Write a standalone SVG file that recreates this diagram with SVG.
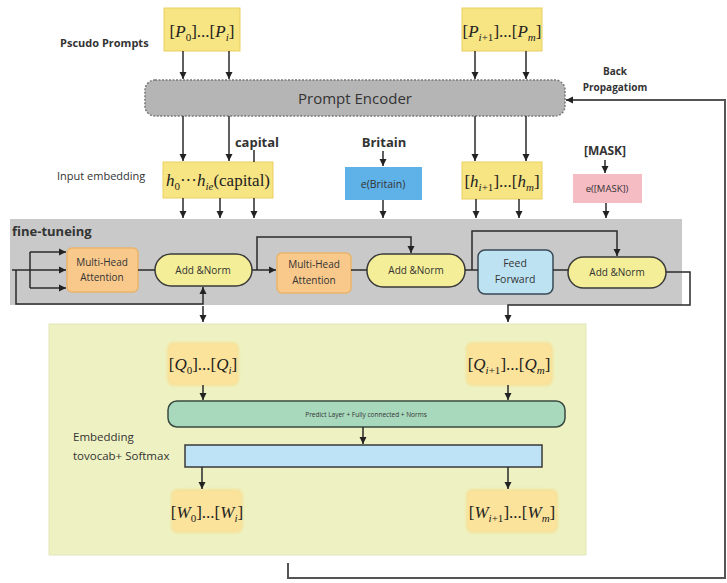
<svg xmlns="http://www.w3.org/2000/svg" width="727" height="583" viewBox="0 0 727 583">
<defs>
<marker id="ah" markerWidth="8" markerHeight="8" refX="7" refY="4" orient="auto" markerUnits="userSpaceOnUse">
<path d="M0,0.5 L7,4 L0,7.5 z" fill="#222"/>
</marker>
<filter id="glow" x="-20%" y="-20%" width="140%" height="140%">
<feGaussianBlur stdDeviation="1.5"/>
</filter>
</defs>
<style>
.lbl{font-family:"Open Sans","Liberation Sans",sans-serif;fill:#333;}
.math{font-family:"Liberation Serif","Times New Roman",serif;fill:#222;font-size:17px;}
.it{font-style:italic;}
.sub{font-size:11px;}
.ybox{fill:#f7e483;stroke:#e9cf62;stroke-width:1;}
.qbox{fill:#fbe39b;stroke:#f3d27a;stroke-width:1;}
.pill{fill:#f3ee97;stroke:#3a3a3a;stroke-width:1.5;}
.mha{fill:#f9c98c;stroke:#eab46a;stroke-width:1.5;}
.ln{fill:none;stroke:#2a2a2a;stroke-width:1.5;}
.arr{fill:none;stroke:#2a2a2a;stroke-width:1.5;marker-end:url(#ah);}
</style>
<rect width="727" height="583" fill="#ffffff"/>

<!-- backgrounds -->
<g id="finetune-region">
<rect x="10" y="219" width="672" height="86" fill="#c9c9c9"/>
<text class="lbl" x="12" y="236" font-size="13" font-weight="bold" fill="#222">fine-tuneing</text>
</g>
<g id="output-region">
<rect x="49" y="324" width="537" height="231" fill="#eef2c2" stroke="#e2e6b8" stroke-width="1"/>
<text class="lbl" x="73" y="441" font-size="11.5">Embedding</text>
<text class="lbl" x="73" y="460" font-size="11.5">tovocab+ Softmax</text>
</g>

<!-- labels -->
<g id="labels">
<text class="lbl" x="60" y="47" font-size="11" font-weight="bold">Pscudo Prompts</text>
<text class="lbl" x="57" y="180" font-size="11">Input embedding</text>
<text class="lbl" x="615" y="75" font-size="10" font-weight="bold" text-anchor="middle">Back</text>
<text class="lbl" x="615" y="91" font-size="10" font-weight="bold" text-anchor="middle">Propagatiom</text>
<text class="lbl" x="257" y="147" font-size="13" font-weight="bold" text-anchor="middle" fill="#222">capital</text>
<text class="lbl" x="384" y="147" font-size="13" font-weight="bold" text-anchor="middle" fill="#222">Britain</text>
<text class="lbl" x="605" y="155" font-size="12" font-weight="bold" text-anchor="middle" fill="#222">[MASK]</text>
</g>

<!-- nodes -->
<g id="pseudo-prompts-1">
<rect class="ybox" x="164" y="8" width="76" height="43"/>
<text class="math" x="202" y="37" text-anchor="middle">[<tspan class="it">P</tspan><tspan class="sub" dy="4">0</tspan><tspan dy="-4">]...[</tspan><tspan class="it">P</tspan><tspan class="sub it" dy="4">i</tspan><tspan dy="-4">]</tspan></text>
</g>
<g id="pseudo-prompts-2">
<rect class="ybox" x="462" y="8" width="80" height="43"/>
<text class="math" x="502" y="37" text-anchor="middle">[<tspan class="it">P</tspan><tspan class="sub it" dy="4">i</tspan><tspan class="sub" dy="0">+1</tspan><tspan dy="-4">]...[</tspan><tspan class="it">P</tspan><tspan class="sub it" dy="4">m</tspan><tspan dy="-4">]</tspan></text>
</g>
<g id="prompt-encoder">
<rect x="145" y="80" width="420" height="36" rx="10" fill="#b5b5b5" stroke="#777" stroke-width="1.5" stroke-dasharray="2,1.5"/>
<text class="lbl" x="355" y="104" font-size="15" text-anchor="middle" fill="#444">Prompt Encoder</text>
</g>
<g id="input-embedding-h">
<rect class="ybox" x="163" y="162" width="110" height="36"/>
<text class="math" x="218" y="186" text-anchor="middle"><tspan class="it">h</tspan><tspan class="sub" dy="4">0</tspan><tspan dy="-4">···</tspan><tspan class="it">h</tspan><tspan class="sub it" dy="4">ie</tspan><tspan dy="-4">(capital)</tspan></text>
</g>
<g id="e-britain">
<rect x="345" y="167" width="77" height="33" fill="#5fb2e8"/>
<text class="lbl" x="383" y="188" font-size="10.5" text-anchor="middle" fill="#1d4a6e">e(Britain)</text>
</g>
<g id="input-embedding-h2">
<rect class="ybox" x="462" y="162" width="80" height="37"/>
<text class="math" x="502" y="187" text-anchor="middle">[<tspan class="it">h</tspan><tspan class="sub it" dy="4">i</tspan><tspan class="sub">+1</tspan><tspan dy="-4">]...[</tspan><tspan class="it">h</tspan><tspan class="sub it" dy="4">m</tspan><tspan dy="-4">]</tspan></text>
</g>
<g id="e-mask">
<rect x="573" y="174" width="69" height="29" fill="#f6bcc4"/>
<text class="lbl" x="607" y="192" font-size="9.5" text-anchor="middle" fill="#9a5a62">e([MASK])</text>
</g>

<g id="multi-head-attention-1">
<rect class="mha" x="67" y="248" width="71" height="44" rx="5"/>
<text class="lbl" x="102" y="266" font-size="10" text-anchor="middle" fill="#7a6a55">Multi-Head</text>
<text class="lbl" x="102" y="281" font-size="10" text-anchor="middle" fill="#7a6a55">Attention</text>
</g>
<g id="add-norm-1">
<rect class="pill" x="155" y="254" width="97" height="32" rx="16"/>
<text class="lbl" x="203" y="274" font-size="10" text-anchor="middle" fill="#555">Add &amp;Norm</text>
</g>
<g id="multi-head-attention-2">
<rect class="mha" x="277" y="253" width="74" height="40" rx="5"/>
<text class="lbl" x="314" y="268" font-size="10" text-anchor="middle" fill="#7a6a55">Multi-Head</text>
<text class="lbl" x="314" y="284" font-size="10" text-anchor="middle" fill="#7a6a55">Attention</text>
</g>
<g id="add-norm-2">
<rect class="pill" x="367" y="254" width="98" height="33" rx="16"/>
<text class="lbl" x="416" y="274" font-size="10" text-anchor="middle" fill="#555">Add &amp;Norm</text>
</g>
<g id="feed-forward">
<rect x="478" y="250" width="75" height="44" rx="7" fill="#bde3f3" stroke="#3a4a55" stroke-width="1.5"/>
<text class="lbl" x="515" y="267" font-size="10.5" text-anchor="middle" fill="#4a6070">Feed</text>
<text class="lbl" x="515" y="283" font-size="10.5" text-anchor="middle" fill="#4a6070">Forward</text>
</g>
<g id="add-norm-3">
<rect class="pill" x="568" y="257" width="98" height="31" rx="15.5"/>
<text class="lbl" x="617" y="276" font-size="10" text-anchor="middle" fill="#555">Add &amp;Norm</text>
</g>

<g id="q-1">
<rect class="qbox" x="168" y="343" width="70" height="42" rx="5" filter="url(#glow)"/>
<rect x="170" y="345" width="66" height="38" rx="4" fill="#fbe39b"/>
<text class="math" x="203" y="370" text-anchor="middle">[<tspan class="it">Q</tspan><tspan class="sub" dy="4">0</tspan><tspan dy="-4">]...[</tspan><tspan class="it">Q</tspan><tspan class="sub it" dy="4">i</tspan><tspan dy="-4">]</tspan></text>
</g>
<g id="q-2">
<rect class="qbox" x="467" y="343" width="85" height="42" rx="5" filter="url(#glow)"/>
<rect x="469" y="345" width="81" height="38" rx="4" fill="#fbe39b"/>
<text class="math" x="509" y="370" text-anchor="middle">[<tspan class="it">Q</tspan><tspan class="sub it" dy="4">i</tspan><tspan class="sub">+1</tspan><tspan dy="-4">]...[</tspan><tspan class="it">Q</tspan><tspan class="sub it" dy="4">m</tspan><tspan dy="-4">]</tspan></text>
</g>
<g id="predict-layer">
<rect x="168" y="401" width="397" height="26" rx="9" fill="#a8d9bd" stroke="#3a4a40" stroke-width="1.5"/>
<text class="lbl" x="366" y="417" font-size="6.5" text-anchor="middle" fill="#7a8a80">Predict Layer + Fully connected + Norms</text>
</g>
<g id="embedding-softmax">
<rect x="185" y="445" width="357" height="22" fill="#bfe3f6" stroke="#3a3a3a" stroke-width="1.5"/>
</g>
<g id="w-1">
<rect class="qbox" x="172" y="490" width="70" height="42" rx="5" filter="url(#glow)"/>
<rect x="174" y="492" width="66" height="38" rx="4" fill="#fbe39b"/>
<text class="math" x="207" y="518" text-anchor="middle">[<tspan class="it">W</tspan><tspan class="sub" dy="4">0</tspan><tspan dy="-4">]...[</tspan><tspan class="it">W</tspan><tspan class="sub it" dy="4">i</tspan><tspan dy="-4">]</tspan></text>
</g>
<g id="w-2">
<rect class="qbox" x="467" y="490" width="90" height="42" rx="5" filter="url(#glow)"/>
<rect x="469" y="492" width="86" height="38" rx="4" fill="#fbe39b"/>
<text class="math" x="512" y="518" text-anchor="middle">[<tspan class="it">W</tspan><tspan class="sub it" dy="4">i</tspan><tspan class="sub">+1</tspan><tspan dy="-4">]...[</tspan><tspan class="it">W</tspan><tspan class="sub it" dy="4">m</tspan><tspan dy="-4">]</tspan></text>
</g>

<!-- connectors -->
<g id="connectors">
<!-- pseudo prompts to encoder -->
<path class="arr" d="M183,51 V79"/>
<path class="arr" d="M229,51 V79"/>
<path class="arr" d="M475,51 V79"/>
<path class="arr" d="M526,51 V79"/>
<!-- encoder to embeddings -->
<path class="arr" d="M183,116 V161"/>
<path class="arr" d="M229,116 V161"/>
<path class="arr" d="M475,116 V161"/>
<path class="arr" d="M526,116 V161"/>
<path class="ln" d="M254,150 V162"/>
<path class="arr" d="M383,151 V166"/>
<path class="arr" d="M605,160 V173"/>
<!-- embeddings to fine-tuning -->
<path class="arr" d="M183,198 V218"/>
<path class="arr" d="M220,198 V218"/>
<path class="arr" d="M254,198 V218"/>
<path class="arr" d="M383,200 V218"/>
<path class="arr" d="M476,199 V218"/>
<path class="arr" d="M519,199 V218"/>
<path class="arr" d="M606,203 V218"/>
<!-- fine-tuning internal -->
<path class="ln" d="M12,270 H30"/>
<path class="ln" d="M30,252 V288"/>
<path class="arr" d="M30,252 H66"/>
<path class="arr" d="M30,270 H66"/>
<path class="arr" d="M30,288 H66"/>
<path class="arr" d="M16,270 V304 H203 V287"/>
<path class="ln" d="M138,270 H155"/>
<path class="arr" d="M252,270 H276"/>
<path class="arr" d="M257,270 V237 H411 V253"/>
<path class="ln" d="M351,270 H367"/>
<path class="ln" d="M465,270 H478"/>
<path class="arr" d="M472,270 V231 H617 V256"/>
<path class="ln" d="M553,270 H568"/>
<path class="arr" d="M666,272 H690 V305 H508 V322"/>
<path class="arr" d="M203,306 V322"/>
<!-- output panel -->
<path class="arr" d="M203,385 V400"/>
<path class="arr" d="M508,385 V400"/>
<path class="arr" d="M363,427 V444"/>
<path class="arr" d="M202,467 V489"/>
<path class="arr" d="M508,467 V489"/>
<!-- back propagation -->
<path fill="none" stroke="#555" stroke-width="2" d="M288,563 V578 H725 V100 H566" marker-end="url(#ah)"/>
</g>
</svg>
